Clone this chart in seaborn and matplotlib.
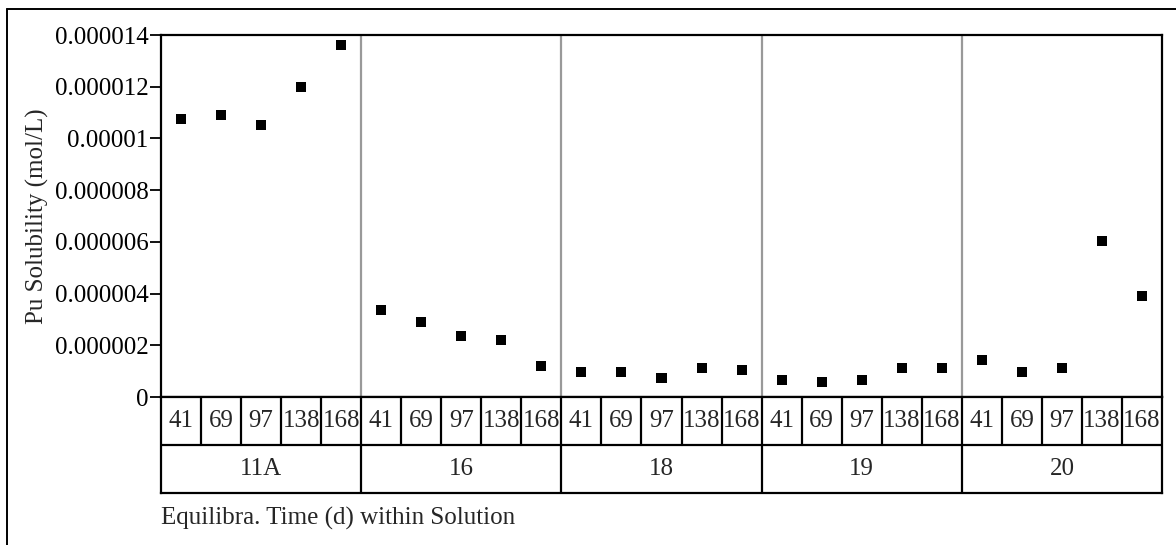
import numpy as np
import pandas as pd
import seaborn as sns
import matplotlib.pyplot as plt
from matplotlib.lines import Line2D

sns.set_style("white")
plt.rcParams["font.family"] = ["Liberation Serif", "DejaVu Serif"]

# data
solutions = ["11A", "16", "18", "19", "20"]
times = [41, 69, 97, 138, 168]
sol_11a = [1.074e-5, 1.090e-5, 1.051e-5, 1.198e-5, 1.360e-5]
sol_16 = [3.36e-6, 2.90e-6, 2.36e-6, 2.20e-6, 1.20e-6]
sol_18 = [0.97e-6, 0.97e-6, 0.73e-6, 1.12e-6, 1.04e-6]
sol_19 = [0.66e-6, 0.58e-6, 0.66e-6, 1.12e-6, 1.12e-6]
sol_20 = [1.43e-6, 0.97e-6, 1.12e-6, 6.02e-6, 3.90e-6]
y_ticks = [0, 2e-6, 4e-6, 6e-6, 8e-6, 1e-5, 1.2e-5, 1.4e-5]
y_tick_labels = ["0", "0.000002", "0.000004", "0.000006", "0.000008",
                 "0.00001", "0.000012", "0.000014"]

values = [sol_11a, sol_16, sol_18, sol_19, sol_20]
rows = []
for s, vals in zip(solutions, values):
    for t, v in zip(times, vals):
        rows.append({"solution": s, "time": t, "value": v})
df = pd.DataFrame(rows)
df["pos"] = np.arange(len(df))

n = len(df)
nt = len(times)
fs = 18

fig = plt.figure(figsize=(11.76, 5.45), dpi=100)
W, H = 1176, 545
ax = fig.add_axes([161 / W, 1 - 397 / H, (1162 - 161) / W, (397 - 35) / H])
tab = fig.add_axes([161 / W, 1 - 492.5 / H, (1162 - 161) / W, (492.5 - 397) / H])

# group separators
for k in range(1, len(solutions)):
    ax.axvline(k * nt - 0.5, color="#999999", lw=1.6, zorder=1)

sns.scatterplot(data=df, x="pos", y="value", marker="s", s=52, color="black",
                edgecolor="none", ax=ax, zorder=3)

ax.set_xlim(-0.5, n - 0.5)
ax.set_ylim(0, 1.4e-5)
ax.set_yticks(y_ticks)
ax.set_yticklabels(y_tick_labels, fontsize=fs)
ax.set_xticks([])
ax.set_xlabel("")
ax.set_ylabel("Pu Solubility (mol/L)", fontsize=fs, labelpad=4)
ax.tick_params(axis="y", which="both", left=True, length=8, width=1.3,
               direction="out", pad=1, colors="black")
for sp in ax.spines.values():
    sp.set_color("black")
    sp.set_linewidth(1.6)

# table of categories under the axis
tab.set_xlim(-0.5, n - 0.5)
tab.set_ylim(0, 2)
tab.set_xticks([])
tab.set_yticks([])
for sp in tab.spines.values():
    sp.set_color("black")
    sp.set_linewidth(1.6)
tab.axhline(1, color="black", lw=1.6)
for i in range(1, n):
    tab.plot([i - 0.5, i - 0.5], [1, 2] if i % nt else [0, 2], color="black", lw=1.6)
for p, t in zip(df["pos"], df["time"]):
    tab.text(p, 1.5, str(t), ha="center", va="center", fontsize=fs)
for k, s in enumerate(solutions):
    tab.text(k * nt + (nt - 1) / 2, 0.5, s, ha="center", va="center", fontsize=fs)

fig.text(161 / W, 1 - 518 / H, "Equilibra. Time (d) within Solution",
         ha="left", va="center", fontsize=fs)

# outer frame (left and top edges)
fig.add_artist(Line2D([7 / W, 7 / W], [0, 1 - 9 / H], color="black", lw=1.4))
fig.add_artist(Line2D([7 / W, 1], [1 - 9 / H, 1 - 9 / H], color="black", lw=1.4))

fig.savefig("out.png", dpi=100)
